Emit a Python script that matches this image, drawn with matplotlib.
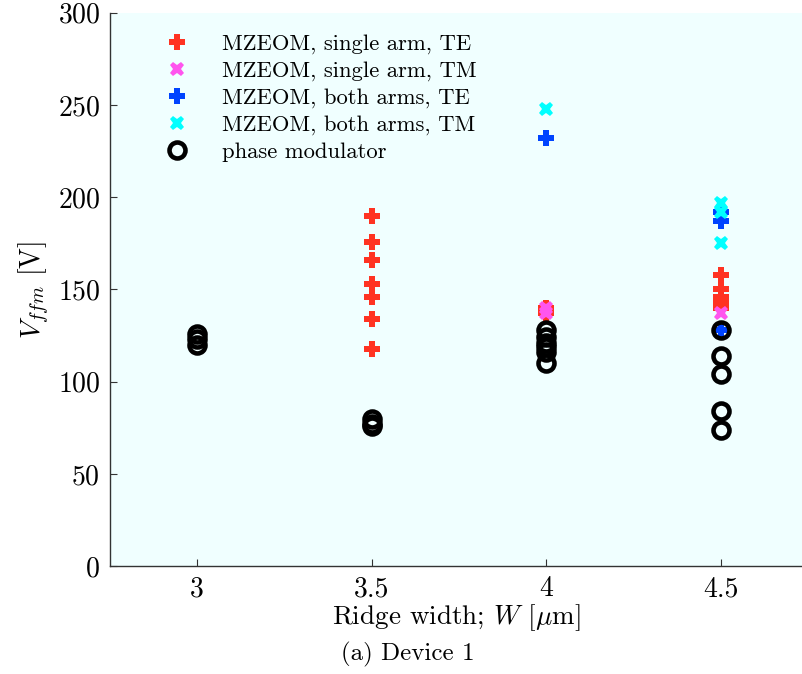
import numpy as np
import matplotlib
matplotlib.use("Agg")
import matplotlib.pyplot as plt

plt.rcParams['font.family'] = ['cmr10', 'DejaVu Serif']
plt.rcParams['mathtext.fontset'] = 'cm'
plt.rcParams['axes.formatter.use_mathtext'] = True

# single arm, TE (red plus)
w_sa_te = [3.5, 3.5, 3.5, 3.5, 3.5, 3.5, 3.5, 4, 4, 4.5, 4.5, 4.5, 4.5, 4.5, 4.5]
v_sa_te = [190, 176, 166, 153, 146, 134, 118, 140, 137, 158, 150, 146, 144, 142, 140]
# single arm, TM (magenta x)
w_sa_tm = [4, 4, 4.5]
v_sa_tm = [140, 137, 137]
# both arms, TE (blue plus)
w_ba_te = [4, 4.5, 4.5, 4.5]
v_ba_te = [232, 192, 187, 128]
# both arms, TM (cyan x)
w_ba_tm = [4, 4.5, 4.5, 4.5]
v_ba_tm = [248, 197, 192, 175]
# phase modulator (black circles)
w_pm = [3, 3, 3, 3.5, 3.5, 3.5, 4, 4, 4, 4, 4, 4, 4.5, 4.5, 4.5, 4.5, 4.5]
v_pm = [126, 123, 120, 80, 77, 76, 128, 124, 121, 119, 116, 110, 128, 114, 104, 84, 74]

xticks = [3, 3.5, 4, 4.5]
yticks = [0, 50, 100, 150, 200, 250, 300]

fig = plt.figure(figsize=(8.02, 6.74), dpi=100)
ax = fig.add_axes([0.137, 0.160, 0.863, 0.821])
ax.set_facecolor('#F0FFFF')

ax.plot(w_sa_te, v_sa_te, 'P', color='#FF3322', ms=11.5, mew=0, ls='none', label='MZEOM, single arm, TE')
ax.plot(w_sa_tm, v_sa_tm, 'X', color='#FF55EE', ms=10.5, mew=0, ls='none', label='MZEOM, single arm, TM')
ax.plot(w_ba_te, v_ba_te, 'P', color='#0044FF', ms=11.5, mew=0, ls='none', label='MZEOM, both arms, TE')
ax.plot(w_ba_tm, v_ba_tm, 'X', color='#00FFFF', ms=10.5, mew=0, ls='none', label='MZEOM, both arms, TM')
ax.plot(w_pm, v_pm, 'o', mfc='none', mec='black', ms=11.5, mew=3.3, ls='none', label='phase modulator')

ax.set_xlim(2.75, 4.733)
ax.set_ylim(0, 300)
ax.set_xticks(xticks)
ax.set_xticklabels(['3', '3.5', '4', '4.5'])
ax.set_yticks(yticks)

for s in ['top', 'right']:
    ax.spines[s].set_visible(False)
for s in ['left', 'bottom']:
    ax.spines[s].set_color('#333333')
    ax.spines[s].set_linewidth(1.0)
ax.tick_params(direction='in', length=5, labelsize=20, color='#333333')
ax.tick_params(axis='x', pad=7)
ax.tick_params(axis='y', pad=7)

ax.set_xlabel(r'Ridge width; $W$ [$\mu$m]', fontsize=19.5, labelpad=0)
ax.set_ylabel(r'$V_{ffm}$ [V]', fontsize=20, labelpad=4)

ax.legend(loc='upper left', frameon=False, fontsize=16.3, handletextpad=1.0,
          borderaxespad=0.3, labelspacing=0.3, bbox_to_anchor=(0.041, 0.99))

fig.text(0.508, 0.02, '(a) Device 1', ha='center', fontsize=18)

fig.savefig('out.png', dpi=100)
